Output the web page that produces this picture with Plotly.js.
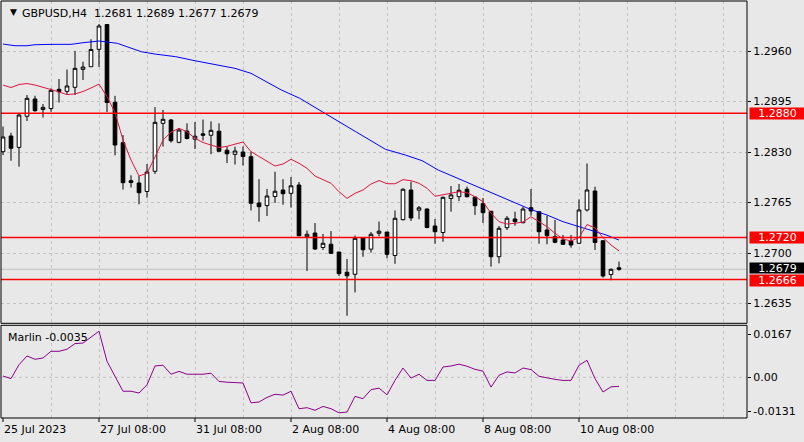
<!DOCTYPE html>
<html>
<head>
<meta charset="utf-8">
<script src="https://cdn.plot.ly/plotly-3.0.1.min.js"></script>
<style>
  html, body { margin: 0; padding: 0; background: #e8e8e8; }
  #chart { width: 804px; height: 442px; }
</style>
</head>
<body>
<div id="chart"></div>
<script>
(function () {
    'use strict';

    // GBPUSD H4 bars, 25 Jul 2023 08:00 .. 11 Aug 2023 04:00
    const open = [1.28304,1.28506,1.28360,1.28760,1.28982,1.28847,1.28860,1.29107,1.29081,1.29133,
        1.29364,1.29398,1.29622,1.29941,1.28940,1.28420,1.27931,1.27901,1.27792,1.28052,
        1.28669,1.28712,1.28425,1.28570,1.28465,1.28534,1.28516,1.28568,1.28323,1.28270,
        1.28300,1.28240,1.27644,1.27611,1.27727,1.27811,1.27768,1.27875,1.27210,1.27257,
        1.27071,1.27113,1.27013,1.26752,1.26726,1.27197,1.27049,1.27254,1.27270,1.26968,
        1.27429,1.27811,1.27551,1.27566,1.27348,1.27264,1.27702,1.27725,1.27821,1.27721,
        1.27635,1.27537,1.26952,1.27326,1.27438,1.27390,1.27583,1.27532,1.27296,1.27210,
        1.27167,1.27155,1.27125,1.27554,1.27798,1.27157,1.26723,1.2681];
    const high = [1.28628,1.28548,1.28796,1.29034,1.29025,1.28918,1.29120,1.29240,1.29362,1.29600,
        1.29462,1.29751,1.29948,1.29944,1.29023,1.28519,1.28000,1.27991,1.28146,1.28879,
        1.28841,1.28725,1.28605,1.28669,1.28686,1.28718,1.28695,1.28669,1.28368,1.28368,
        1.28371,1.28306,1.27950,1.27824,1.28046,1.27950,1.27978,1.27914,1.27290,1.27386,
        1.27245,1.27283,1.27013,1.26923,1.27225,1.27197,1.27270,1.27405,1.27270,1.27547,
        1.27830,1.27918,1.27605,1.27575,1.27438,1.27725,1.27862,1.27888,1.27856,1.27721,
        1.27708,1.27537,1.27348,1.27476,1.27532,1.27596,1.27824,1.27532,1.27480,1.27425,
        1.27232,1.27232,1.27689,1.28152,1.27853,1.27167,1.26800,1.2689];
    const low = [1.28261,1.28188,1.28111,1.28699,1.28819,1.28744,1.28819,1.28937,1.29034,1.29034,
        1.29227,1.29398,1.29394,1.28815,1.28258,1.27817,1.27843,1.27627,1.27712,1.28017,
        1.28371,1.28420,1.28412,1.28461,1.28339,1.28448,1.28272,1.28306,1.28158,1.28139,
        1.28126,1.27547,1.27403,1.27476,1.27644,1.27622,1.27586,1.27216,1.26769,1.27039,
        1.27039,1.26987,1.26704,1.26193,1.26492,1.26952,1.27004,1.27216,1.26932,1.26862,
        1.27418,1.27412,1.27434,1.27318,1.27120,1.27145,1.27532,1.27669,1.27714,1.27490,
        1.27386,1.26824,1.26867,1.27296,1.27351,1.27382,1.27480,1.27120,1.27112,1.27125,
        1.27103,1.27068,1.27120,1.27534,1.27039,1.26682,1.26649,1.2677];
    const close = [1.28493,1.28348,1.28776,1.28991,1.28832,1.28875,1.29094,1.29076,1.29150,1.29377,
        1.29394,1.29619,1.29922,1.28937,1.28390,1.27905,1.27907,1.27776,1.28043,1.28682,
        1.28721,1.28445,1.28583,1.28474,1.28503,1.28516,1.28579,1.28309,1.28277,1.28313,
        1.28242,1.27640,1.27596,1.27734,1.27795,1.27763,1.27865,1.27221,1.27241,1.27051,
        1.27125,1.26996,1.26734,1.26707,1.27189,1.27042,1.27241,1.27281,1.26983,1.27447,
        1.27821,1.27451,1.27582,1.27328,1.27274,1.27717,1.27747,1.27807,1.27725,1.27609,
        1.27519,1.26952,1.27318,1.27447,1.27403,1.27566,1.27541,1.27274,1.27223,1.27138,
        1.27112,1.27103,1.27554,1.27811,1.27135,1.26704,1.26790,1.2679];

    // fast moving average (red), one value per bar
    const fastMA = [1.29162,1.29130,1.29169,1.29182,1.29162,1.29137,1.29104,1.29072,1.29040,1.29047,
        1.29079,1.29124,1.29175,1.29012,1.28808,1.28454,1.28197,1.27991,1.28026,1.28236,
        1.28454,1.28557,1.28605,1.28561,1.28476,1.28422,1.28386,1.28358,1.28373,1.28403,
        1.28429,1.28304,1.28240,1.28175,1.28120,1.28146,1.28206,1.28155,1.28090,1.27991,
        1.27949,1.27897,1.27789,1.27704,1.27768,1.27811,1.27888,1.27933,1.27892,1.27891,
        1.27944,1.27931,1.27897,1.27833,1.27730,1.27747,1.27772,1.27789,1.27776,1.27725,
        1.27660,1.27511,1.27403,1.27373,1.27382,1.27399,1.27467,1.27403,1.27339,1.27254,
        1.27180,1.27155,1.27200,1.27367,1.27322,1.27197,1.27103,1.27026];

    // slow moving average (blue), read at bar positions
    const slowBar = [0,1.5,3,4,6,8.5,10,11,12,13,14.3,15.5,17.3,19,21.6,24,26.5,29,31,33,
        34.8,37.1,40,42,44.1,46.2,47.8,50.3,52.4,54.4,56.5,58.6,60.7,63,65.9,68,70,72,74.2,75.4,77];
    const slowMA = [1.29690,1.29668,1.29668,1.29681,1.29686,1.29686,1.29707,1.29716,1.29729,1.29716,
        1.29699,1.29655,1.29591,1.29561,1.29527,1.29475,1.29429,1.29377,1.29313,1.29205,
        1.29098,1.28991,1.28819,1.28690,1.28561,1.28433,1.28335,1.28261,1.28188,1.28068,
        1.27974,1.27884,1.27789,1.27691,1.27563,1.27489,1.27403,1.27339,1.27274,1.27232,1.27167];

    // Marlin oscillator
    const marlin = [0.0005,-0.0005,0.0049,0.0083,0.0070,0.0075,0.0101,0.0101,0.0109,0.0131,
        0.0133,0.0157,0.0179,0.0062,0.0004,-0.0054,-0.0054,-0.0061,-0.0029,0.0044,
        0.0047,0.0012,0.0023,0.0012,0.0012,0.0012,0.0016,-0.0016,-0.0019,-0.0021,
        -0.0022,-0.0099,-0.0096,-0.0078,-0.0066,-0.0069,-0.0054,-0.0122,-0.0118,-0.0128,
        -0.0113,-0.0122,-0.0138,-0.0135,-0.0074,-0.0083,-0.0048,-0.0042,-0.0068,-0.0012,
        0.0036,-0.0003,0.0012,-0.0012,-0.0012,0.0040,0.0044,0.0051,0.0043,0.0031,
        0.0024,-0.0038,0.0008,0.0021,0.0017,0.0036,0.0030,0.0004,-0.0003,-0.0008,
        -0.0012,-0.0012,0.0047,0.0066,-0.0005,-0.0057,-0.0037,-0.0035];

    const priceTicks = [1.2960, 1.2895, 1.2830, 1.2765, 1.2700, 1.2635];
    const oscTicks = [0.0167, 0, -0.0131];
    const oscTickText = ['0.0167', '0.00', '-0.0131'];
    const timeBars = [0, 12, 24, 36, 48, 60, 72];
    const timeLabels = ['25 Jul 2023', '27 Jul 08:00', '31 Jul 08:00', '2 Aug 08:00',
        '4 Aug 08:00', '8 Aug 08:00', '10 Aug 08:00'];
    const redLevels = [1.2880, 1.2720, 1.2666];
    const lastPrice = 1.2679;
    const header = 'GBPUSD,H4\u00a0\u00a01.2681 1.2689 1.2677 1.2679';
    const oscName = 'Marlin -0.0035';

    const bars = open.map((_, i) => i);
    const FONT = 'DejaVu Sans';
    const BG = '#e8e8e8';
    const GRID = '#c2c2c2';

    // page geometry (pixels)
    const W = 804, H = 442, ML = 1, MR = 57, MT = 1, MB = 24;
    const PW = W - ML - MR, PH = H - MT - MB;
    const px = x => (x - ML) / PW;
    const py = y => (H - MB - y) / PH;

    const traces = [
        {
            type: 'candlestick', x: bars, open: open, high: high, low: low, close: close,
            xaxis: 'x', yaxis: 'y', whiskerwidth: 0, hoverinfo: 'skip',
            increasing: {line: {color: '#000000', width: 1}, fillcolor: '#ffffff'},
            decreasing: {line: {color: '#000000', width: 1}, fillcolor: '#000000'}
        },
        {
            type: 'scatter', mode: 'lines', x: slowBar, y: slowMA, xaxis: 'x', yaxis: 'y',
            line: {color: '#0000ff', width: 1}, hoverinfo: 'skip'
        },
        {
            type: 'scatter', mode: 'lines', x: bars, y: fastMA, xaxis: 'x', yaxis: 'y',
            line: {color: '#e0143c', width: 1}, hoverinfo: 'skip'
        },
        {
            type: 'scatter', mode: 'lines', x: bars, y: marlin, xaxis: 'x', yaxis: 'y2',
            line: {color: '#8b008b', width: 1}, hoverinfo: 'skip'
        }
    ];

    const shapes = [];
    // current price line
    shapes.push({type: 'line', xref: 'paper', x0: 0, x1: 1, yref: 'y', y0: lastPrice, y1: lastPrice,
        line: {color: '#c0c0c0', width: 1}, layer: 'below'});
    redLevels.forEach(v => shapes.push({type: 'line', xref: 'paper', x0: 0, x1: 1, yref: 'y',
        y0: v, y1: v, line: {color: '#ff0000', width: 1.5}}));
    // zero line of the oscillator
    shapes.push({type: 'line', xref: 'paper', x0: 0, x1: 1, yref: 'y2', y0: 0, y1: 0,
        line: {color: GRID, width: 1, dash: '3px,3px'}, layer: 'below'});
    // panel frames
    shapes.push({type: 'rect', xref: 'paper', x0: 0, x1: 1, yref: 'y domain', y0: 0, y1: 1,
        line: {color: '#000000', width: 1}});
    shapes.push({type: 'rect', xref: 'paper', x0: 0, x1: 1, yref: 'y2 domain', y0: 0, y1: 1,
        line: {color: '#000000', width: 1}});
    // time scale ticks
    timeBars.forEach(b => shapes.push({type: 'line', xref: 'x', x0: b, x1: b, yref: 'paper',
        y0: 0, y1: -4 / PH, line: {color: '#000000', width: 1}}));

    const annotations = [];
    annotations.push({xref: 'paper', yref: 'paper', x: px(8), y: py(12), xanchor: 'left', yanchor: 'middle',
        text: '\u25bc', showarrow: false, font: {family: FONT, size: 9, color: '#000000'}});
    annotations.push({xref: 'paper', yref: 'paper', x: px(20), y: py(13), xanchor: 'left', yanchor: 'middle',
        text: header, showarrow: false, font: {family: FONT, size: 11, color: '#000000'}});
    annotations.push({xref: 'paper', yref: 'paper', x: px(6), y: py(337), xanchor: 'left', yanchor: 'middle',
        text: oscName, showarrow: false, font: {family: FONT, size: 11, color: '#000000'}});
    timeBars.forEach((b, i) => annotations.push({xref: 'x', yref: 'paper', x: b, xshift: -1, y: py(429),
        xanchor: 'left', yanchor: 'middle', text: timeLabels[i], showarrow: false,
        font: {family: FONT, size: 11, color: '#000000'}}));

    const boxLabel = (v, color, h, dy) => ({xref: 'paper', x: 1, xshift: 2, xanchor: 'left', yref: 'y', y: v,
        yshift: dy, yanchor: 'middle', text: v.toFixed(4), showarrow: false, bgcolor: color, borderpad: 0,
        width: 55, height: h, align: 'center', font: {family: FONT, size: 11, color: '#ffffff'}});
    annotations.push(boxLabel(redLevels[0], '#ff0000', 11, 0));
    annotations.push(boxLabel(redLevels[1], '#ff0000', 11, 0));
    annotations.push(boxLabel(lastPrice, '#000000', 10, 1));
    annotations.push(boxLabel(redLevels[2], '#ff0000', 11, -1));

    const layout = {
        width: W, height: H,
        margin: {l: ML, r: MR, t: MT, b: MB, pad: 0},
        paper_bgcolor: BG, plot_bgcolor: BG,
        showlegend: false, hovermode: false,
        boxgap: 0.35,
        font: {family: FONT, size: 11, color: '#000000'},
        xaxis: {
            anchor: 'y2', range: [-0.25, 93.0], rangeslider: {visible: false},
            tickvals: [6,12,18,24,30,36,42,48,54,60,66,72,78,84,90],
            showticklabels: false, ticks: '', showgrid: true, gridcolor: GRID, griddash: '3px,3px',
            zeroline: false, showline: false
        },
        yaxis: {
            domain: [py(323.3), 1], range: [1.26095, 1.30244], side: 'right',
            tickvals: priceTicks, tickformat: '.4f', ticks: 'outside', ticklen: 3, tickcolor: '#000000',
            showgrid: true, gridcolor: GRID, griddash: '3px,3px', zeroline: false, showline: false,
            tickfont: {family: FONT, size: 11, color: '#000000'}
        },
        yaxis2: {
            domain: [0, py(325.3)], range: [-0.0158, 0.0202], side: 'right',
            tickvals: oscTicks, ticktext: oscTickText, ticks: 'outside', ticklen: 3, tickcolor: '#000000',
            showgrid: false, zeroline: false, showline: false,
            tickfont: {family: FONT, size: 11, color: '#000000'}
        },
        shapes: shapes,
        annotations: annotations
    };

    window.Plotly.newPlot('chart', traces, layout, {displayModeBar: false, staticPlot: true});
}());
</script>
</body>
</html>
